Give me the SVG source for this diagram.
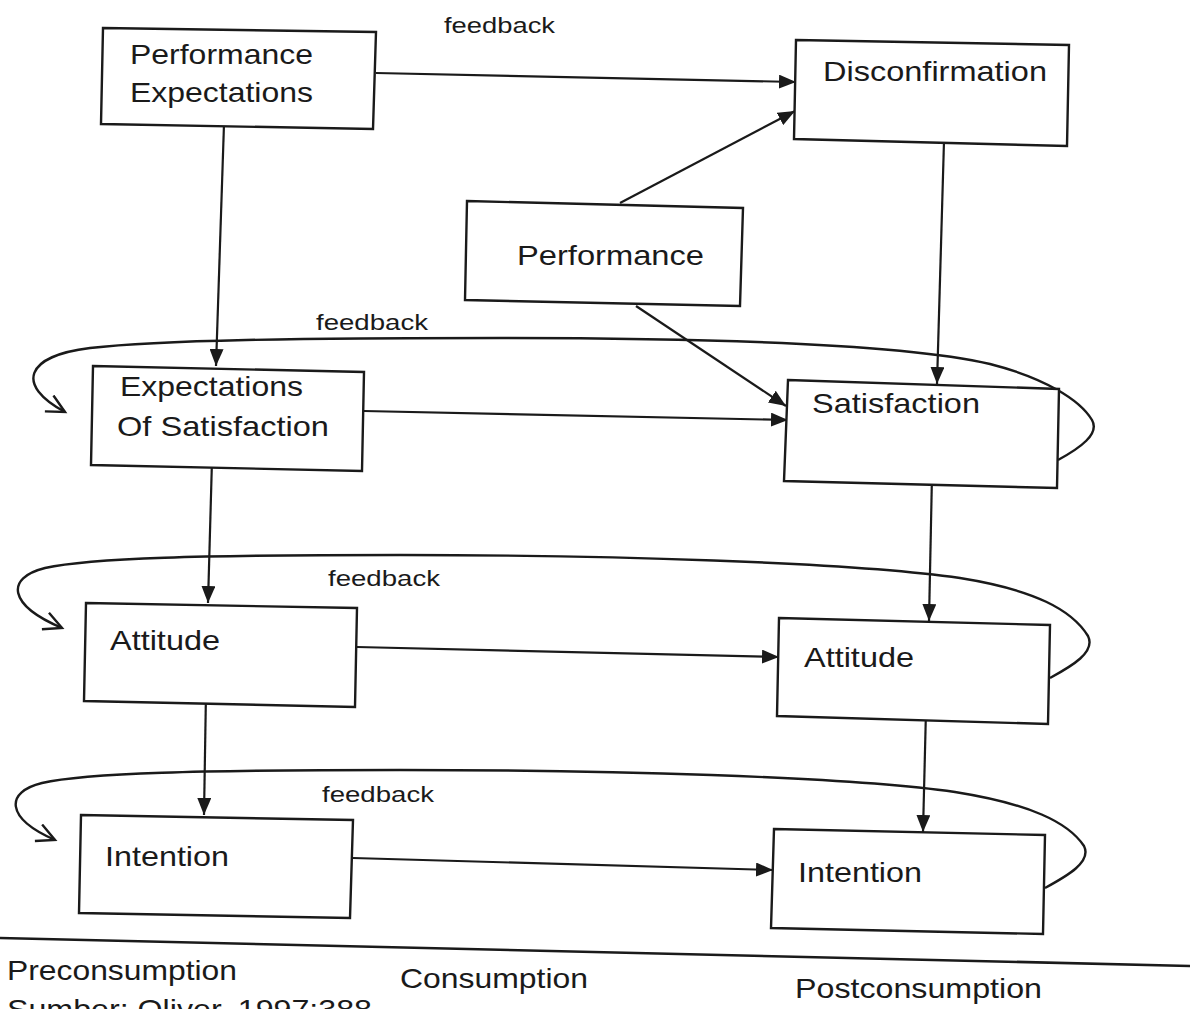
<svg xmlns="http://www.w3.org/2000/svg" width="1190" height="1009" viewBox="0 0 1190 1009">
  <style>
    .box { fill: #ffffff; stroke: #1a1a1a; stroke-width: 2.4; stroke-linejoin: miter; }
    .lbl { font-family: "Liberation Sans", Arial, sans-serif; font-size: 28px; fill: #1a1a1a; }
    .fb { font-family: "Liberation Sans", Arial, sans-serif; font-size: 22px; fill: #1a1a1a; }
    .edge { fill: none; stroke: #1a1a1a; stroke-width: 2.2; }
    .loop { fill: none; stroke: #1a1a1a; stroke-width: 2.4; }
  </style>
  <defs>
    <marker id="solid" markerUnits="userSpaceOnUse" markerWidth="18" markerHeight="14" refX="17" refY="7" orient="auto">
      <path d="M0,0 L17,7 L0,14 z" fill="#1a1a1a"/>
    </marker>
    <marker id="open" markerUnits="userSpaceOnUse" markerWidth="24" markerHeight="24" refX="20" refY="10" orient="auto">
      <path d="M2,1 L20,10 L2,19" fill="none" stroke="#1a1a1a" stroke-width="2.4"/>
    </marker>
  </defs>

  <rect width="1190" height="1009" fill="#ffffff"/>

  <!-- connectors -->
  <g id="connectors">
    <path class="edge" d="M376,73 L796,82" marker-end="url(#solid)"/>
    <path class="edge" d="M224,124 L216,366" marker-end="url(#solid)"/>
    <path class="edge" d="M620,203 L795,111" marker-end="url(#solid)"/>
    <path class="edge" d="M636,306 L786,406" marker-end="url(#solid)"/>
    <path class="edge" d="M944,141 L937,384" marker-end="url(#solid)"/>
    <path class="edge" d="M364,411 L788,420" marker-end="url(#solid)"/>
    <path class="edge" d="M212,460 L208,603" marker-end="url(#solid)"/>
    <path class="edge" d="M932,475 L929,621" marker-end="url(#solid)"/>
    <path class="edge" d="M357,647 L779,657" marker-end="url(#solid)"/>
    <path class="edge" d="M206,692 L204,815" marker-end="url(#solid)"/>
    <path class="edge" d="M926,710 L923,832" marker-end="url(#solid)"/>
    <path class="edge" d="M353,858 L773,870" marker-end="url(#solid)"/>

    <!-- feedback loops -->
    <path class="loop" d="M1058,460 C1080,448 1100,434 1092,420 C1080,400 1045,378 990,364 C900,343 700,338 500,338 C300,338 160,340 90,348 C25,356 15,385 65,412" marker-end="url(#open)"/>
    <path class="loop" d="M1050,678 C1072,666 1096,652 1088,636 C1072,610 1035,590 960,578 C850,562 600,555 400,555 C200,555 90,558 45,568 C5,578 8,605 62,628" marker-end="url(#open)"/>
    <path class="loop" d="M1045,888 C1067,876 1092,862 1084,846 C1068,822 1030,804 955,792 C845,776 600,770 400,770 C200,770 85,773 42,783 C5,792 5,818 55,840" marker-end="url(#open)"/>
  </g>

  <text class="fb" x="444" y="33" textLength="111" lengthAdjust="spacingAndGlyphs">feedback</text>
  <text class="fb" x="316" y="330" textLength="112" lengthAdjust="spacingAndGlyphs">feedback</text>
  <text class="fb" x="328" y="586" textLength="112" lengthAdjust="spacingAndGlyphs">feedback</text>
  <text class="fb" x="322" y="802" textLength="112" lengthAdjust="spacingAndGlyphs">feedback</text>

  <g id="perf-expectations">
    <polygon class="box" points="103,28 376,32 373,129 101,124"/>
    <text class="lbl" x="130" y="64" textLength="183" lengthAdjust="spacingAndGlyphs">Performance</text>
    <text class="lbl" x="130" y="102" textLength="183" lengthAdjust="spacingAndGlyphs">Expectations</text>
  </g>
  <g id="disconfirmation">
    <polygon class="box" points="796,40 1069,45 1067,146 794,139"/>
    <text class="lbl" x="823" y="81" textLength="224" lengthAdjust="spacingAndGlyphs">Disconfirmation</text>
  </g>
  <g id="performance">
    <polygon class="box" points="467,201 743,208 740,306 465,300"/>
    <text class="lbl" x="517" y="265" textLength="187" lengthAdjust="spacingAndGlyphs">Performance</text>
  </g>
  <g id="expectations-of-satisfaction">
    <polygon class="box" points="93,366 364,372 362,471 91,465"/>
    <text class="lbl" x="120" y="396" textLength="183" lengthAdjust="spacingAndGlyphs">Expectations</text>
    <text class="lbl" x="117" y="436" textLength="212" lengthAdjust="spacingAndGlyphs">Of Satisfaction</text>
  </g>
  <g id="satisfaction">
    <polygon class="box" points="788,380 1059,389 1057,488 784,481"/>
    <text class="lbl" x="812" y="413" textLength="168" lengthAdjust="spacingAndGlyphs">Satisfaction</text>
  </g>
  <g id="attitude-pre">
    <polygon class="box" points="86,603 357,608 355,707 84,701"/>
    <text class="lbl" x="110" y="650" textLength="110" lengthAdjust="spacingAndGlyphs">Attitude</text>
  </g>
  <g id="attitude-post">
    <polygon class="box" points="779,618 1050,625 1048,724 777,716"/>
    <text class="lbl" x="804" y="667" textLength="110" lengthAdjust="spacingAndGlyphs">Attitude</text>
  </g>
  <g id="intention-pre">
    <polygon class="box" points="81,815 353,820 350,918 79,913"/>
    <text class="lbl" x="105" y="866" textLength="124" lengthAdjust="spacingAndGlyphs">Intention</text>
  </g>
  <g id="intention-post">
    <polygon class="box" points="774,829 1045,835 1043,934 771,928"/>
    <text class="lbl" x="798" y="882" textLength="124" lengthAdjust="spacingAndGlyphs">Intention</text>
  </g>

  <!-- stage divider and captions -->
  <line x1="0" y1="938" x2="1190" y2="966" stroke="#1a1a1a" stroke-width="2.6"/>
  <text class="lbl" x="7" y="980" textLength="230" lengthAdjust="spacingAndGlyphs">Preconsumption</text>
  <text class="lbl" x="400" y="988" textLength="188" lengthAdjust="spacingAndGlyphs">Consumption</text>
  <text class="lbl" x="795" y="998" textLength="247" lengthAdjust="spacingAndGlyphs">Postconsumption</text>
  <text class="lbl" x="7" y="1019" textLength="365" lengthAdjust="spacingAndGlyphs">Sumber: Oliver, 1997:388</text>
</svg>
